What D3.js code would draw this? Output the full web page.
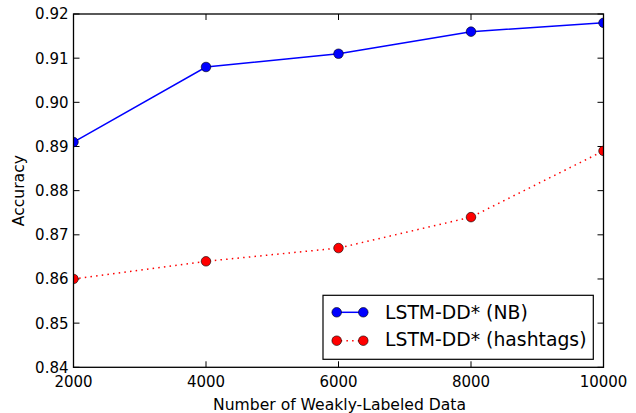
<!DOCTYPE html>
<html><head><meta charset="utf-8">
<script src="https://cdn.jsdelivr.net/npm/d3@7"></script>
<style>body{margin:0;background:#fff}svg{display:block}text{font-family:"DejaVu Sans",sans-serif}</style>
</head><body><svg id="c" width="636" height="413"></svg>
<script>
const xValues = [2000, 4000, 6000, 8000, 10000];
const nbValues = [0.891, 0.908, 0.911, 0.916, 0.918];
const hashtagValues = [0.860, 0.864, 0.867, 0.874, 0.889];
const xTicks = [2000, 4000, 6000, 8000, 10000];
const yTicks = [0.84, 0.85, 0.86, 0.87, 0.88, 0.89, 0.90, 0.91, 0.92];
const seriesNames = ["LSTM-DD* (NB)", "LSTM-DD* (hashtags)"];

const svg = d3.select("#c");
const L = 73.5, R = 603.5, T = 14, B = 367.3;
const x = d3.scaleLinear().domain([2000, 10000]).range([L, R]);
const y = d3.scaleLinear().domain([0.84, 0.92]).range([B, T]);
const tl = 6;

svg.append("defs").append("clipPath").attr("id","clip")
  .append("rect").attr("x",L).attr("y",T).attr("width",R-L).attr("height",B-T);

// ticks
const tg = svg.append("g").attr("stroke","#000").attr("stroke-width",1);
xTicks.forEach(v=>{
  tg.append("line").attr("x1",x(v)).attr("x2",x(v)).attr("y1",B).attr("y2",B-tl);
  tg.append("line").attr("x1",x(v)).attr("x2",x(v)).attr("y1",T).attr("y2",T+tl);
});
yTicks.forEach(v=>{
  tg.append("line").attr("x1",L).attr("x2",L+tl).attr("y1",y(v)).attr("y2",y(v));
  tg.append("line").attr("x1",R).attr("x2",R-tl).attr("y1",y(v)).attr("y2",y(v));
});

// tick labels
svg.append("g").selectAll("text").data(xTicks).join("text")
  .attr("x",d=>x(d)).attr("y",386.5).attr("text-anchor","middle")
  .attr("font-size","15px").attr("fill","#000").text(d=>d);
svg.append("g").selectAll("text").data(yTicks).join("text")
  .attr("x",68.5).attr("y",d=>y(d)+5.4).attr("text-anchor","end")
  .attr("font-size","15px").attr("fill","#000").text(d=>d3.format(".2f")(d));

// axis labels
svg.append("text").attr("x",(L+R)/2+1).attr("y",409.5).attr("text-anchor","middle")
  .attr("font-size","15.6px").text("Number of Weakly-Labeled Data");
svg.append("text").attr("transform",`translate(24,${(T+B)/2}) rotate(-90)`)
  .attr("text-anchor","middle").attr("font-size","15.6px").text("Accuracy");

// lines
const line = d3.line().x((d,i)=>x(xValues[i])).y(d=>y(d));
const pg = svg.append("g").attr("clip-path","url(#clip)");
pg.append("path").attr("d",line(nbValues)).attr("fill","none").attr("stroke","#0000ff").attr("stroke-width",1.5);
pg.append("path").attr("d",line(hashtagValues)).attr("fill","none").attr("stroke","#ff0000").attr("stroke-width",1.5).attr("stroke-dasharray","1.5,4.2");
pg.selectAll("circle.nb").data(nbValues).join("circle").attr("class","nb")
  .attr("cx",(d,i)=>x(xValues[i])).attr("cy",d=>y(d)).attr("r",4.8)
  .attr("fill","#0000ff").attr("stroke","#000").attr("stroke-width",0.6);
pg.selectAll("circle.ht").data(hashtagValues).join("circle").attr("class","ht")
  .attr("cx",(d,i)=>x(xValues[i])).attr("cy",d=>y(d)).attr("r",4.8)
  .attr("fill","#ff0000").attr("stroke","#000").attr("stroke-width",0.6);

// spines
svg.append("rect").attr("x",L).attr("y",T).attr("width",R-L).attr("height",B-T)
  .attr("fill","none").attr("stroke","#000").attr("stroke-width",1.3);

// legend
const lg = svg.append("g");
lg.append("rect").attr("x",323).attr("y",295.3).attr("width",270.3).attr("height",64)
  .attr("fill","#fff").attr("stroke","#000").attr("stroke-width",1.2);
const rows = [{c:"#0000ff",dash:null,yy:312.3,base:318.5},{c:"#ff0000",dash:"1.5,4.2",yy:340.7,base:346.2}];
rows.forEach((r,i)=>{
  const l = lg.append("line").attr("x1",336.7).attr("x2",363.3).attr("y1",r.yy).attr("y2",r.yy)
    .attr("stroke",r.c).attr("stroke-width",1.5);
  if(r.dash) l.attr("stroke-dasharray",r.dash).attr("stroke-dashoffset",-4);
  [336.7,363.3].forEach(cx=>lg.append("circle").attr("cx",cx).attr("cy",r.yy).attr("r",4.8)
    .attr("fill",r.c).attr("stroke","#000").attr("stroke-width",0.6));
  lg.append("text").attr("x",385).attr("y",r.base).attr("font-size","18.8px").text(seriesNames[i]);
});
</script></body></html>
